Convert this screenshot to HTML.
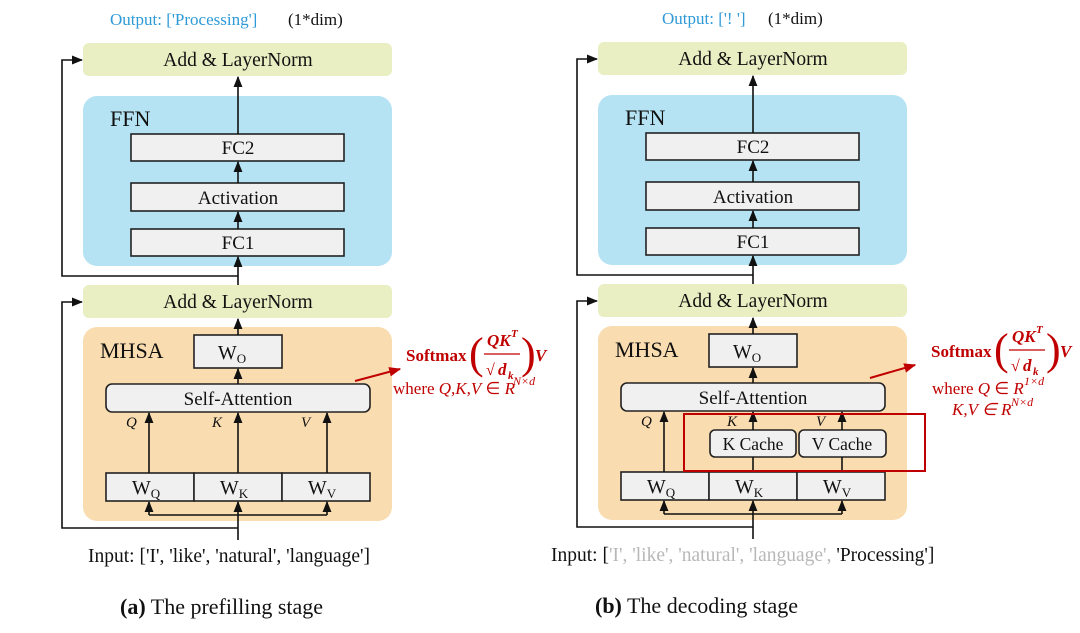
<!DOCTYPE html>
<html><head><meta charset="utf-8"><style>
html,body{margin:0;padding:0;background:#fff;}
svg{display:block;font-family:"Liberation Serif",serif;}
</style></head><body>
<svg width="1080" height="633" viewBox="0 0 1080 633" xmlns="http://www.w3.org/2000/svg">
<defs>
<marker id="ah" viewBox="0 0 10 10" refX="9" refY="5" markerWidth="7" markerHeight="7" orient="auto"><path d="M0,1 L10,5 L0,9 z" fill="#111"/></marker>
<marker id="ar" viewBox="0 0 10 10" refX="9" refY="5" markerWidth="6" markerHeight="6" orient="auto"><path d="M0,1 L10,5 L0,9 z" fill="#c00000"/></marker>
<g id="common" stroke-width="1.6">
  <rect x="83" y="43" width="309" height="33" rx="6" fill="#e9efc2"/>
  <text x="238" y="66" font-size="19.5" text-anchor="middle" fill="#111">Add &amp; LayerNorm</text>
  <rect x="83" y="96" width="309" height="170" rx="14" fill="#b5e3f4"/>
  <text x="110" y="126" font-size="22" fill="#111">FFN</text>
  <rect x="131" y="134" width="213" height="27" fill="#f0f0f0" stroke="#222"/>
  <text x="238" y="154" font-size="19" text-anchor="middle" fill="#111">FC2</text>
  <rect x="131" y="183" width="213" height="28" fill="#f0f0f0" stroke="#222"/>
  <text x="238" y="204" font-size="19" text-anchor="middle" fill="#111">Activation</text>
  <rect x="131" y="229" width="213" height="27" fill="#f0f0f0" stroke="#222"/>
  <text x="238" y="249" font-size="19" text-anchor="middle" fill="#111">FC1</text>
  <rect x="83" y="285" width="309" height="33" rx="6" fill="#e9efc2"/>
  <text x="238" y="308" font-size="19.5" text-anchor="middle" fill="#111">Add &amp; LayerNorm</text>
  <rect x="83" y="327" width="309" height="194" rx="14" fill="#f9dcb0"/>
  <text x="100" y="358" font-size="22" fill="#111">MHSA</text>
  <rect x="194" y="335" width="88" height="33" fill="#f0f0f0" stroke="#222"/>
  <text x="232" y="359" font-size="20" text-anchor="middle" fill="#111">W<tspan font-size="13" dy="4">O</tspan></text>
  <rect x="106" y="384" width="264" height="28" rx="6" fill="#f0f0f0" stroke="#222"/>
  <text x="238" y="405" font-size="19" text-anchor="middle" fill="#111">Self-Attention</text>
  <rect x="106" y="473" width="88" height="28" fill="#f0f0f0" stroke="#222"/>
  <rect x="194" y="473" width="88" height="28" fill="#f0f0f0" stroke="#222"/>
  <rect x="282" y="473" width="88" height="28" fill="#f0f0f0" stroke="#222"/>
  <text x="146" y="494" font-size="20" text-anchor="middle" fill="#111">W<tspan font-size="13" dy="4">Q</tspan></text>
  <text x="234" y="494" font-size="20" text-anchor="middle" fill="#111">W<tspan font-size="13" dy="4">K</tspan></text>
  <text x="322" y="494" font-size="20" text-anchor="middle" fill="#111">W<tspan font-size="13" dy="4">V</tspan></text>
  <g stroke="#111" fill="none" stroke-width="1.6">
    <line x1="238" y1="134" x2="238" y2="77" marker-end="url(#ah)"/>
    <line x1="238" y1="183" x2="238" y2="162" marker-end="url(#ah)"/>
    <line x1="238" y1="229" x2="238" y2="212" marker-end="url(#ah)"/>
    <line x1="238" y1="285" x2="238" y2="257" marker-end="url(#ah)"/>
    <line x1="238" y1="335" x2="238" y2="319" marker-end="url(#ah)"/>
    <line x1="238" y1="384" x2="238" y2="369" marker-end="url(#ah)"/>
    <polyline points="238,276 62,276 62,60 82,60" marker-end="url(#ah)"/>
    <polyline points="238,528 62,528 62,302 82,302" marker-end="url(#ah)"/>
    <line x1="238" y1="540" x2="238" y2="502" marker-end="url(#ah)"/>
    <polyline points="149,515 327,515"/>
    <line x1="149" y1="515" x2="149" y2="502" marker-end="url(#ah)"/>
    <line x1="327" y1="515" x2="327" y2="502" marker-end="url(#ah)"/>
  </g>
</g>
</defs>

<!-- Left panel -->
<use href="#common"/>
<text x="110" y="25" font-size="17" fill="#2e9ad8">Output: ['Processing']</text>
<text x="288" y="25" font-size="17" fill="#111">(1*dim)</text>
<g font-size="15" font-style="italic" fill="#111">
<text x="126" y="427">Q</text><text x="212" y="427">K</text><text x="301" y="427">V</text>
</g>
<g stroke="#111" stroke-width="1.6">
<line x1="149" y1="473" x2="149" y2="413" marker-end="url(#ah)"/>
<line x1="238" y1="473" x2="238" y2="413" marker-end="url(#ah)"/>
<line x1="327" y1="473" x2="327" y2="413" marker-end="url(#ah)"/>
</g>
<line x1="355" y1="381" x2="400" y2="369" stroke="#c00000" stroke-width="2" marker-end="url(#ar)"/>
<g fill="#c00000">
<text x="406" y="361" font-size="17" font-weight="bold">Softmax</text>
<text x="469" y="368" font-size="44">(</text>
<text x="487" y="346" font-size="17" font-weight="bold" font-style="italic">QK</text>
<text x="511" y="337" font-size="11" font-weight="bold" font-style="italic">T</text>
<line x1="484" y1="354" x2="520" y2="354" stroke="#c00000" stroke-width="1.3"/>
<text x="486" y="375" font-size="16">√</text>
<text x="498" y="375" font-size="17" font-weight="bold" font-style="italic">d</text>
<text x="508" y="379" font-size="11" font-weight="bold" font-style="italic">k</text>
<text x="521" y="368" font-size="44">)</text>
<text x="535" y="361" font-size="17" font-weight="bold" font-style="italic">V</text>
<text x="393" y="394" font-size="17">where <tspan font-style="italic">Q,K,V</tspan> ∈ <tspan font-style="italic">R</tspan></text>
<text x="513" y="385" font-size="12" font-style="italic">N×d</text>
</g>
<text x="88" y="562" font-size="19.5" fill="#111">Input: ['I', 'like', 'natural', 'language']</text>
<text x="120" y="614" font-size="22" fill="#111"><tspan font-weight="bold">(a)</tspan> The prefilling stage</text>

<!-- Right panel -->
<g transform="translate(515,-1)">
<use href="#common"/>
<text x="147" y="25" font-size="17" fill="#2e9ad8">Output: ['! ']</text>
<text x="253" y="25" font-size="17" fill="#111">(1*dim)</text>
<g font-size="15" font-style="italic" fill="#111">
<text x="126" y="427">Q</text><text x="212" y="427">K</text><text x="301" y="427">V</text>
</g>
<rect x="195" y="431" width="86" height="27" rx="5" fill="#f0f0f0" stroke="#222" stroke-width="1.6"/>
<rect x="284" y="431" width="87" height="27" rx="5" fill="#f0f0f0" stroke="#222" stroke-width="1.6"/>
<text x="238" y="451" font-size="17.5" text-anchor="middle" fill="#111">K Cache</text>
<text x="327" y="451" font-size="17.5" text-anchor="middle" fill="#111">V Cache</text>
<g stroke="#111" stroke-width="1.6">
<line x1="149" y1="473" x2="149" y2="413" marker-end="url(#ah)"/>
<line x1="238" y1="473" x2="238" y2="458"/>
<line x1="327" y1="473" x2="327" y2="458"/>
<line x1="238" y1="431" x2="238" y2="413" marker-end="url(#ah)"/>
<line x1="327" y1="431" x2="327" y2="413" marker-end="url(#ah)"/>
</g>
<rect x="169" y="415" width="241" height="57" fill="none" stroke="#c00000" stroke-width="2"/>
<line x1="355" y1="379" x2="400" y2="366" stroke="#c00000" stroke-width="2" marker-end="url(#ar)"/>
<g fill="#c00000">
<text x="416" y="358" font-size="17" font-weight="bold">Softmax</text>
<text x="479" y="365" font-size="44">(</text>
<text x="497" y="343" font-size="17" font-weight="bold" font-style="italic">QK</text>
<text x="521" y="334" font-size="11" font-weight="bold" font-style="italic">T</text>
<line x1="494" y1="351" x2="530" y2="351" stroke="#c00000" stroke-width="1.3"/>
<text x="496" y="372" font-size="16">√</text>
<text x="508" y="372" font-size="17" font-weight="bold" font-style="italic">d</text>
<text x="518" y="376" font-size="11" font-weight="bold" font-style="italic">k</text>
<text x="531" y="365" font-size="44">)</text>
<text x="545" y="358" font-size="17" font-weight="bold" font-style="italic">V</text>
<text x="417" y="395" font-size="17">where <tspan font-style="italic">Q</tspan> ∈ <tspan font-style="italic">R</tspan></text>
<text x="509" y="386" font-size="12" font-style="italic">1×d</text>
<text x="437" y="416" font-size="17" font-style="italic">K,V ∈ R</text>
<text x="496" y="407" font-size="12" font-style="italic">N×d</text>
</g>
</g>
<text x="551" y="561" font-size="19.5" fill="#111">Input: [<tspan fill="#b8b8b8">'I', 'like', 'natural', 'language', </tspan>'Processing']</text>
<text x="595" y="613" font-size="22" fill="#111"><tspan font-weight="bold">(b)</tspan> The decoding stage</text>
</svg>
</body></html>
